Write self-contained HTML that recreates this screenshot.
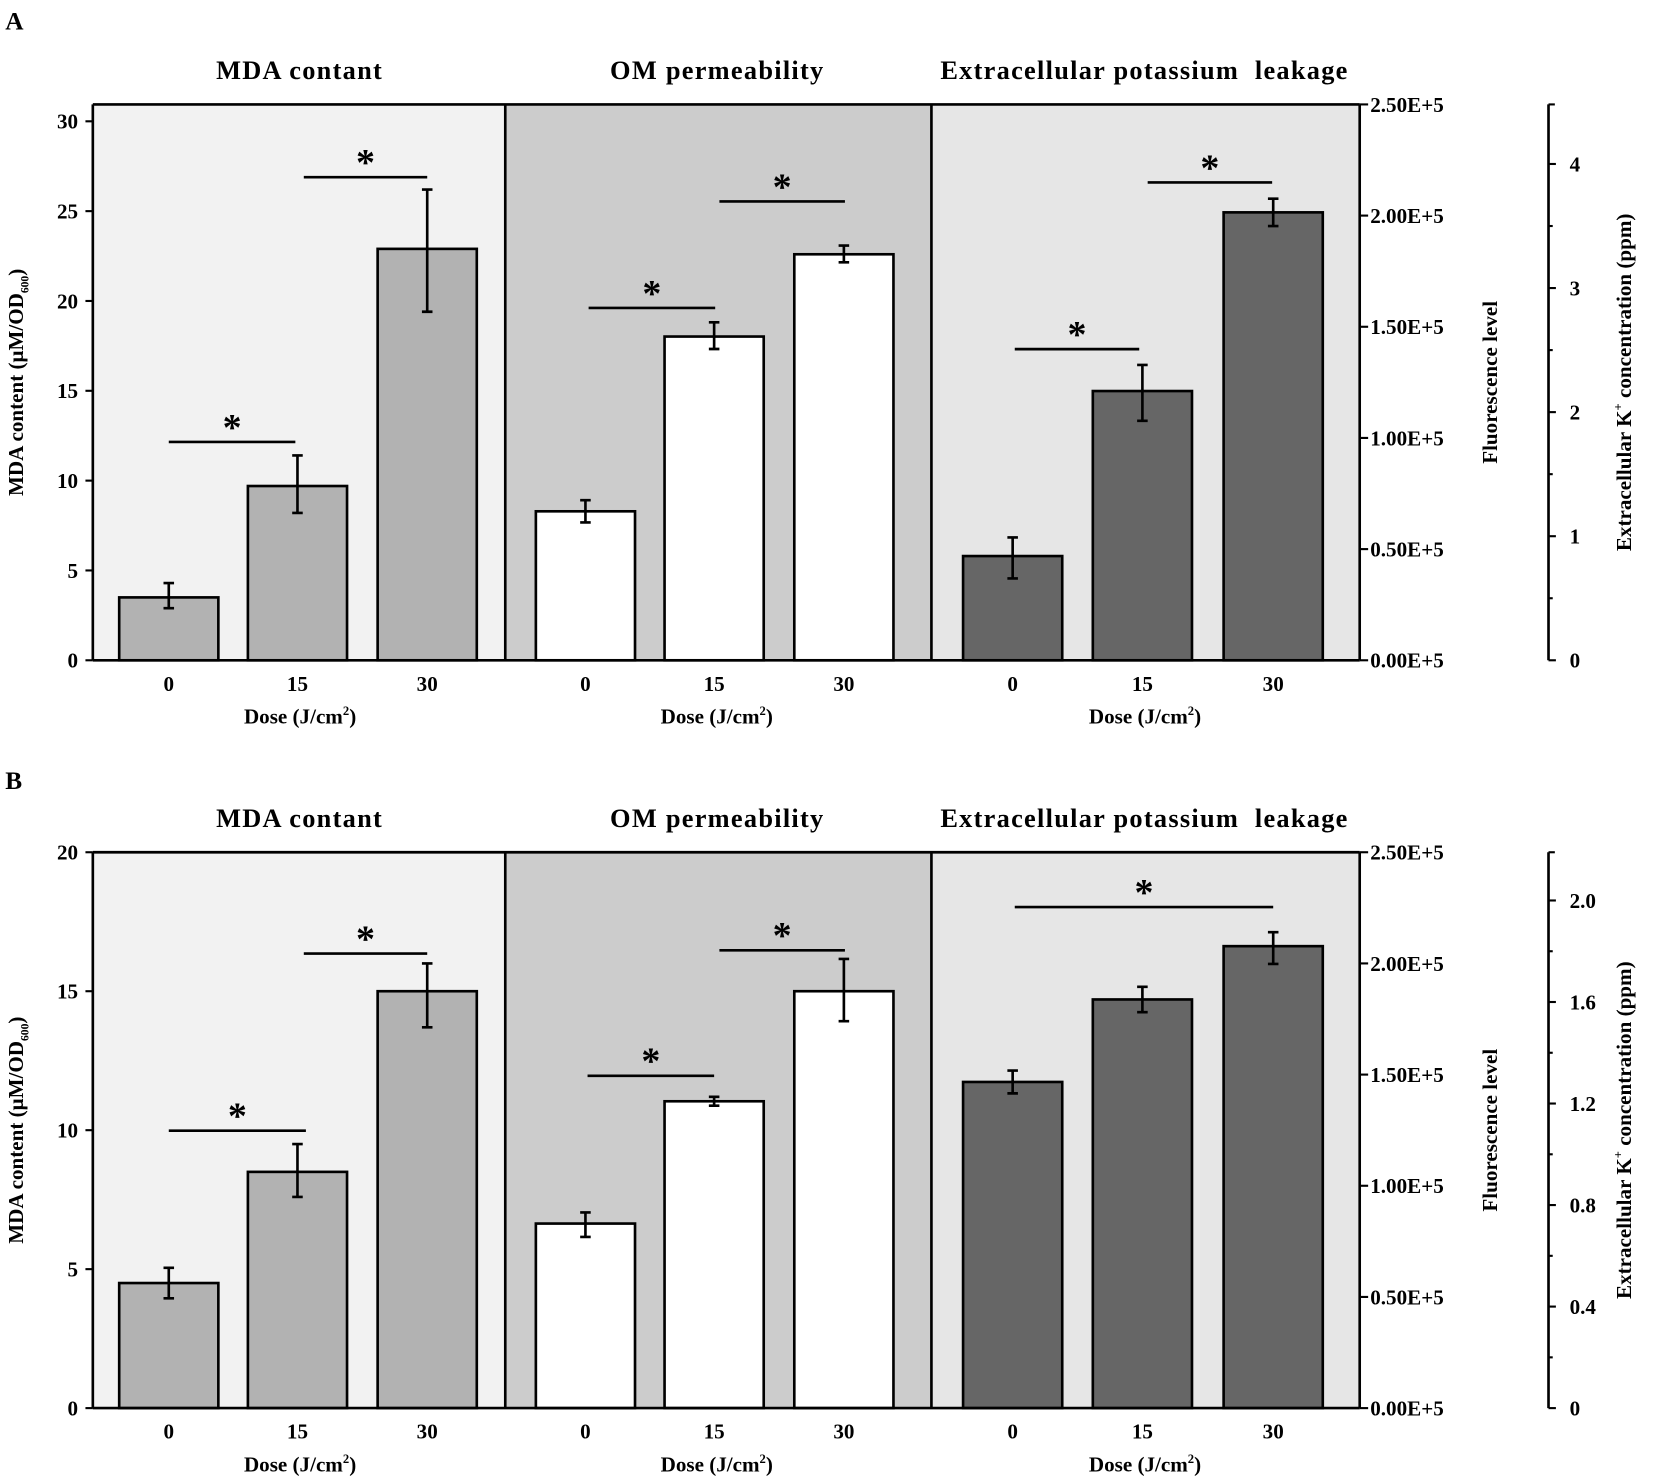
<!DOCTYPE html>
<html><head><meta charset="utf-8"><style>
html,body{margin:0;padding:0;background:#fff;}
svg{display:block;font-family:"Liberation Serif",serif;font-weight:bold;}
</style></head><body>
<svg id="chart" width="1654" height="1483" viewBox="0 0 1568 1406" preserveAspectRatio="none" xmlns="http://www.w3.org/2000/svg"></svg>
<script>
const categories = ["0","15","30"];
// Panel A
const mdaA = [3.5, 9.7, 22.9];
const mdaAHi = [4.3, 11.4, 26.2];
const mdaALo = [2.9, 8.2, 19.4];
const omA = [0.67, 1.456, 1.826];      // ×1E+5
const omAHi = [0.72, 1.52, 1.865];
const omALo = [0.62, 1.40, 1.79];
const kA = [0.84, 2.17, 3.61];
const kAHi = [0.99, 2.38, 3.72];
const kALo = [0.66, 1.93, 3.50];
// Panel B
const mdaB = [4.5, 8.5, 15.0];
const mdaBHi = [5.05, 9.5, 16.0];
const mdaBLo = [3.95, 7.6, 13.7];
const omB = [0.83, 1.38, 1.875];
const omBHi = [0.88, 1.40, 2.02];
const omBLo = [0.77, 1.36, 1.74];
const kB = [1.285, 1.61, 1.82];
const kBHi = [1.33, 1.66, 1.875];
const kBLo = [1.24, 1.56, 1.75];
const mdaTicksA = [0,5,10,15,20,25,30];
const mdaTicksB = [0,5,10,15,20];
const fluoTicks = [0,0.5,1,1.5,2,2.5];
const fluoLabels = ["0.00E+5","0.50E+5","1.00E+5","1.50E+5","2.00E+5","2.50E+5"];
const kTicksA = [0,1,2,3,4];
const kMinorA = [0.5,1.5,2.5,3.5];
const kTicksB = [0,0.4,0.8,1.2,1.6,2.0];
const kLabelsB = ["0","0.4","0.8","1.2","1.6","2.0"];
const kMinorB = [0.2,0.6,1.0,1.4,1.8];

const NS="http://www.w3.org/2000/svg";
const svg=document.getElementById('chart');
function el(tag,attrs,parent,text){const e=document.createElementNS(NS,tag);for(const k in attrs)e.setAttribute(k,attrs[k]);if(text!==undefined)e.textContent=text;(parent||svg).appendChild(e);return e;}

function panel(opt){
  const g=el('g',{});
  
  
  const T=opt.top,B=opt.bottom,L=88,R=1289,d1=479,d2=883;
  const H=B-T;
  const yM=v=>B-v/opt.mdaMax*H, yF=v=>B-v/2.5*H, yK=v=>B-v/opt.kMax*H;
  const lab=el('text',{x:5,y:opt.letterY,'font-size':24},g,opt.id);
   
  const bgs=[[L,d1,'#f2f2f2'],[d1,d2,'#cccccc'],[d2,R,'#e6e6e6']];
  bgs.forEach((b,i)=>{const r=el('rect',{x:b[0],y:T,width:b[1]-b[0],height:H,fill:b[2]},g);
     });
  const titles=[["MDA contant",284],["OM permeability",680],["Extracellular potassium \u00a0leakage",1085]];
  titles.forEach(t=>{const e=el('text',{x:t[1],y:opt.titleY,'text-anchor':'middle','font-size':25,'letter-spacing':1.2},g,t[0]);
     });
  const centers=[[160,282,405],[555,677,800],[960,1083,1207]];
  const sets=[[opt.mda,opt.mdaHi,opt.mdaLo,yM,'#b2b2b2'],[opt.om,opt.omHi,opt.omLo,yF,'#ffffff'],[opt.k,opt.kHi,opt.kLo,yK,'#666666']];
  sets.forEach((s,gi)=>{
    categories.forEach((c,i)=>{
      const cx=centers[gi][i], y=s[3](s[0][i]);
      const r=el('rect',{x:cx-47,y:y,width:94,height:B-y,fill:s[4],stroke:'#000','stroke-width':2.5},g);
       
      const yh=s[3](s[1][i]), yl=s[3](s[2][i]);
      const eb=el('path',{d:`M${cx},${yh}V${yl}M${cx-5},${yh}H${cx+5}M${cx-5},${yl}H${cx+5}`,stroke:'#000','stroke-width':2.5,fill:'none'},g);
       
      const tl=el('text',{x:cx,y:B+29,'text-anchor':'middle','font-size':20},g,c);
       
    });
    const cx=(centers[gi][0]+centers[gi][2])/2+2;
    const xt=el('text',{x:cx,y:B+60,'text-anchor':'middle','font-size':20},g);
     
    el('tspan',{},xt,'Dose (J/cm'); el('tspan',{'font-size':12,dy:-8},xt,'2'); el('tspan',{dy:8},xt,')');
  });
  const fr=el('path',{d:`M${L},${T}H${R}M${L},${B}H${R}M${L},${T}V${B}M${R},${T}V${B}M${d1},${T}V${B}M${d2},${T}V${B}`,stroke:'#000','stroke-width':2.5,fill:'none'},g);
   
  opt.mdaTicks.forEach(v=>{const y=yM(v);
    el('line',{x1:L-7,x2:L,y1:y,y2:y,stroke:'#000','stroke-width':2},g);
    const t=el('text',{x:L-14,y:y+7,'text-anchor':'end','font-size':20},g,String(v));
     });
  fluoTicks.forEach((v,i)=>{const y=yF(v);
    el('line',{x1:R,x2:R+8,y1:y,y2:y,stroke:'#000','stroke-width':2},g);
    const t=el('text',{x:R+10,y:y+7,'font-size':20},g,fluoLabels[i]);
     });
  const KX=1468;
  const ka=el('line',{x1:KX,x2:KX,y1:T,y2:B,stroke:'#000','stroke-width':2.5},g);
   
  el('line',{x1:KX,x2:KX+6,y1:T,y2:T,stroke:'#000','stroke-width':2},g);
  opt.kTicks.forEach((v,i)=>{const y=yK(v);
    el('line',{x1:KX,x2:KX+7,y1:y,y2:y,stroke:'#000','stroke-width':2},g);
    const t=el('text',{x:KX+20,y:y+7,'font-size':20},g,opt.kLabels[i]);
     });
  opt.kMinor.forEach(v=>{const y=yK(v);el('line',{x1:KX,x2:KX+4,y1:y,y2:y,stroke:'#000','stroke-width':2},g);});
  opt.sig.forEach(s=>{
    const ln=el('line',{x1:s[0],x2:s[1],y1:s[2],y2:s[2],stroke:'#000','stroke-width':2.5},g);
     
    const st=el('text',{x:(s[0]+s[1])/2,y:s[2]-2,'text-anchor':'middle','font-size':36},g,'*');
     
  });
  const mid=(T+B)/2;
  const lt=el('text',{transform:`translate(22,${mid}) rotate(-90)`,'text-anchor':'middle','font-size':20},g);
   
  el('tspan',{},lt,'MDA content (μM/OD'); el('tspan',{'font-size':11,dy:5},lt,'600'); el('tspan',{dy:-5},lt,')');
  const ft=el('text',{transform:`translate(1419,${mid}) rotate(-90)`,'text-anchor':'middle','font-size':20},g,'Fluorescence level');
   
  const kt=el('text',{transform:`translate(1546,${mid}) rotate(-90)`,'text-anchor':'middle','font-size':20},g);
   
  el('tspan',{},kt,'Extracellular K'); el('tspan',{'font-size':12,dy:-8},kt,'+'); el('tspan',{dy:8},kt,' concentration (ppm)');
}

panel({id:'A',top:99,bottom:626,letterY:28,titleY:75,mdaMax:30.94,kMax:4.48,
  mda:mdaA,mdaHi:mdaAHi,mdaLo:mdaALo,om:omA,omHi:omAHi,omLo:omALo,k:kA,kHi:kAHi,kLo:kALo,
  mdaTicks:mdaTicksA,kTicks:kTicksA,kLabels:kTicksA.map(String),kMinor:kMinorA,
  sig:[[160,280,419],[288,405,168],[558,678,292],[682,801,191],[962,1080,331],[1088,1206,173]]});
panel({id:'B',top:808,bottom:1335,letterY:748,titleY:784,mdaMax:20,kMax:2.19,
  mda:mdaB,mdaHi:mdaBHi,mdaLo:mdaBLo,om:omB,omHi:omBHi,omLo:omBLo,k:kB,kHi:kBHi,kLo:kBLo,
  mdaTicks:mdaTicksB,kTicks:kTicksB,kLabels:kLabelsB,kMinor:kMinorB,
  sig:[[160,290,1072],[288,405,904],[557,677,1020],[682,801,901],[962,1207,860]]});
</script>
</body></html>
